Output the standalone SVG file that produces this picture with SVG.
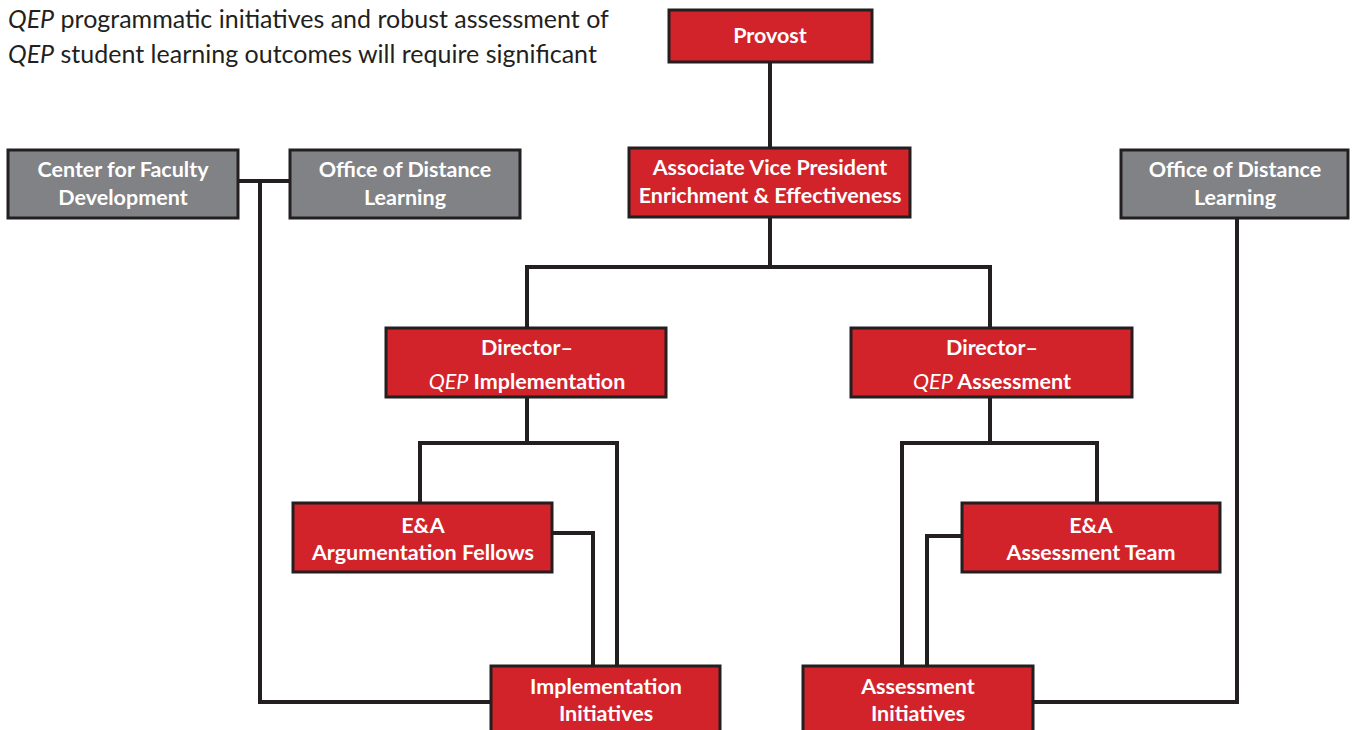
<svg xmlns="http://www.w3.org/2000/svg" width="1353" height="730" viewBox="0 0 1353 730">
<style>
.red{fill:#d2232b;stroke:#231f20;stroke-width:3}
.gray{fill:#808285;stroke:#231f20;stroke-width:3}
.lbl{font-family:Lato,"Open Sans","Liberation Sans",sans-serif;font-weight:bold;font-size:21.5px;fill:#fff;text-anchor:middle}
.body{font-family:Lato,"Open Sans","Liberation Sans",sans-serif;font-size:25px;fill:#231f20}
.conn{fill:none;stroke:#231f20;stroke-width:4}
</style>
<rect width="1353" height="730" fill="#fff"/>
<g id="intro">
<text class="body" x="8" y="28"><tspan font-style="italic">QEP</tspan> programmatic initiatives and robust assessment of</text>
<text class="body" x="8" y="63"><tspan font-style="italic">QEP</tspan> student learning outcomes will require significant</text>
</g>
<g id="connectors" class="conn">
<path d="M770,62 V148"/>
<path d="M770,217 V267 M527,267 H990 M527,265 V328 M990,265 V328"/>
<path d="M238,181 H290 M260,181 V702 H491"/>
<path d="M1237,218 V702 H1033"/>
<path d="M527,397 V443 M420,443 H617 M420,441 V503 M617,441 V666"/>
<path d="M552,533 H593 V666"/>
<path d="M990,397 V443 M902,443 H1097 M1097,441 V503 M902,441 V666"/>
<path d="M962,536 H927 V666"/>
</g>
<g id="provost"><rect class="red" x="669" y="10" width="203" height="52"/><text class="lbl" x="770" y="43">Provost</text></g>
<g id="avp"><rect class="red" x="629" y="148" width="281" height="69"/><text class="lbl" x="770" y="175">Associate Vice President</text><text class="lbl" x="770" y="203">Enrichment &amp; Effectiveness</text></g>
<g id="cfd"><rect class="gray" x="8" y="150" width="230" height="68"/><text class="lbl" x="123" y="177">Center for Faculty</text><text class="lbl" x="123" y="205">Development</text></g>
<g id="odl-left"><rect class="gray" x="290" y="150" width="230" height="68"/><text class="lbl" x="405" y="177">Office of Distance</text><text class="lbl" x="405" y="205">Learning</text></g>
<g id="odl-right"><rect class="gray" x="1121" y="150" width="227" height="68"/><text class="lbl" x="1235" y="177">Office of Distance</text><text class="lbl" x="1235" y="205">Learning</text></g>
<g id="dir-impl"><rect class="red" x="386" y="328" width="280" height="69"/><text class="lbl" x="527" y="355">Director–</text><text class="lbl" x="527" y="389"><tspan font-style="italic" font-weight="normal">QEP</tspan> Implementation</text></g>
<g id="dir-assess"><rect class="red" x="851" y="328" width="281" height="69"/><text class="lbl" x="992" y="355">Director–</text><text class="lbl" x="992" y="389"><tspan font-style="italic" font-weight="normal">QEP</tspan> Assessment</text></g>
<g id="fellows"><rect class="red" x="293" y="503" width="259" height="69"/><text class="lbl" x="423" y="533">E&amp;A</text><text class="lbl" x="423" y="560">Argumentation Fellows</text></g>
<g id="team"><rect class="red" x="962" y="503" width="258" height="69"/><text class="lbl" x="1091" y="533">E&amp;A</text><text class="lbl" x="1091" y="560">Assessment Team</text></g>
<g id="impl-init"><rect class="red" x="491" y="666" width="229" height="80"/><text class="lbl" x="606" y="694">Implementation</text><text class="lbl" x="606" y="721">Initiatives</text></g>
<g id="assess-init"><rect class="red" x="803" y="666" width="230" height="80"/><text class="lbl" x="918" y="694">Assessment</text><text class="lbl" x="918" y="721">Initiatives</text></g>
</svg>
